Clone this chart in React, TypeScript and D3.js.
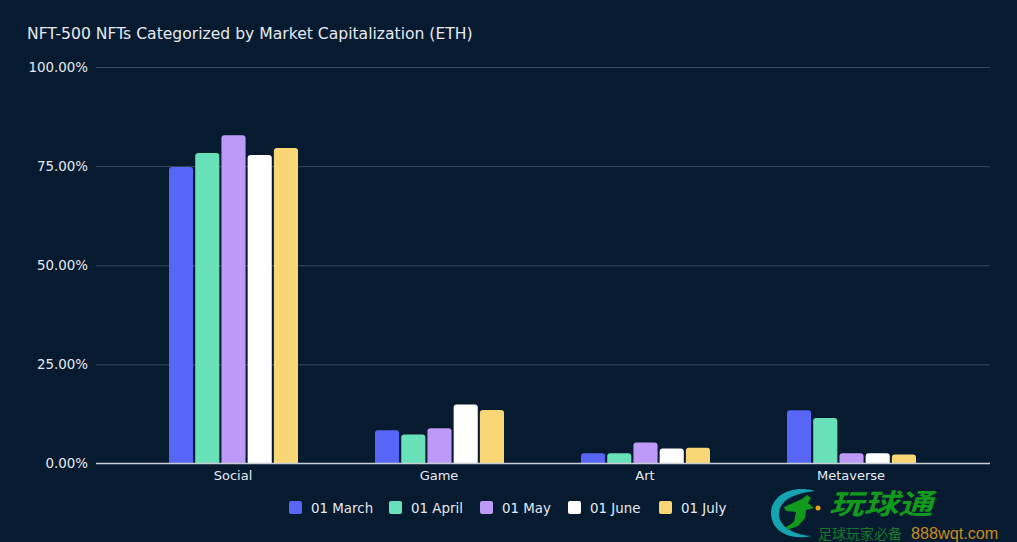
import React, { useEffect, useRef } from 'react';
import * as d3 from 'd3';

const categories = ['Social', 'Game', 'Art', 'Metaverse'];
const months = ['01 March', '01 April', '01 May', '01 June', '01 July'];
const march = [74.8, 8.4, 2.6, 13.4];
const april = [78.3, 7.3, 2.6, 11.5];
const may = [82.8, 8.9, 5.3, 2.6];
const june = [77.8, 14.9, 3.8, 2.6];
const july = [79.6, 13.5, 4.0, 2.3];
const seriesValues = [march, april, may, june, july];
const colors = ['#5766f7', '#68e0b8', '#bd9af7', '#ffffff', '#f8d676'];
const yTicks = [0, 25, 50, 75, 100];

const width = 1017;
const height = 542;
const font = '"DejaVu Sans", Verdana, sans-serif';
const textColor = '#e6eaf0';

const App: React.FC = () => {
  const ref = useRef<SVGSVGElement | null>(null);

  useEffect(() => {
    if (!ref.current) return;
    const svg = d3.select(ref.current);
    svg.selectAll('*').remove();

    svg.append('rect').attr('width', width).attr('height', height).attr('fill', '#061b30');

    svg.append('text')
      .attr('x', 27).attr('y', 39)
      .attr('fill', textColor)
      .attr('font-size', 15.6)
      .text('NFT-500 NFTs Categorized by Market Capitalization (ETH)');

    const y = d3.scaleLinear().domain([0, 100]).range([463.5, 67]);
    const x0 = d3.scaleBand().domain(categories).range([130, 954]);
    const x1 = d3.scaleBand().domain(months).range([39, 168]).paddingInner(0.08);

    // gridlines + y labels
    const yAxis = svg.append('g')
      .attr('transform', 'translate(96,0)')
      .call(d3.axisLeft(y).tickValues(yTicks).tickSize(-894).tickPadding(8).tickFormat(d => `${(+d).toFixed(2)}%`));
    yAxis.select('.domain').remove();
    yAxis.selectAll('.tick line').attr('stroke', d => (d === 0 ? 'none' : '#3a4b62'));
    yAxis.selectAll('.tick text')
      .attr('fill', textColor)
      .attr('font-size', 13.4)
      .attr('font-family', font);

    // bars, rounded on top only
    const barPath = (bx: number, by: number, w: number, r: number) => {
      const h = y(0) - by;
      const rr = Math.min(r, h);
      return `M${bx},${y(0)}V${by + rr}Q${bx},${by} ${bx + rr},${by}H${bx + w - rr}Q${bx + w},${by} ${bx + w},${by + rr}V${y(0)}Z`;
    };

    months.forEach((m, i) => {
      svg.append('g').selectAll('path')
        .data(seriesValues[i])
        .enter().append('path')
        .attr('fill', colors[i])
        .attr('d', (d, j) => barPath((x0(categories[j]) as number) + (x1(m) as number), y(d), x1.bandwidth(), 3));
    });

    // x axis
    svg.append('line')
      .attr('x1', 96).attr('x2', 990)
      .attr('y1', y(0)).attr('y2', y(0))
      .attr('stroke', '#c9ced6').attr('stroke-width', 1.5);

    const xAxis = svg.append('g')
      .attr('transform', `translate(0,${y(0)})`)
      .call(d3.axisBottom(x0).tickSize(0).tickPadding(7));
    xAxis.select('.domain').remove();
    xAxis.selectAll('.tick text')
      .attr('fill', textColor)
      .attr('font-size', 13)
      .attr('font-family', font);

    // legend
    const legendX = d3.scaleOrdinal<string, number>().domain(months).range([289, 389, 480, 568, 659]);
    const legend = svg.append('g').selectAll('g')
      .data(months)
      .enter().append('g')
      .attr('transform', d => `translate(${legendX(d)},501)`);
    legend.append('rect')
      .attr('width', 13).attr('height', 13).attr('rx', 2)
      .attr('fill', (_, i) => colors[i]);
    legend.append('text')
      .attr('x', 22).attr('y', 11.5)
      .attr('fill', textColor)
      .attr('font-size', 13.4)
      .text(d => d);

    // watermark
    const wm = svg.append('g');
    wm.append('path')
      .attr('d', 'M815,491 C790,484 771,497 771,513 C771,530 788,541 812,536 C795,535 778,527 779,513 C780,500 795,493 815,491Z')
      .attr('fill', '#15a3b0');
    wm.append('path')
      .attr('d', 'M784,507 L802,499 L807,495 L811,498 L808,503 L814,508 L806,510 L805,518 L798,526 L787,530 L786,527 L794,522 L796,512 L786,511Z')
      .attr('fill', '#129a1c');
    wm.append('circle').attr('cx', 818).attr('cy', 508).attr('r', 2.5).attr('fill', '#eda21e');
    wm.append('text')
      .attr('x', 829).attr('y', 514)
      .attr('fill', '#129a1c')
      .attr('font-family', '"Noto Sans CJK SC"')
      .attr('font-weight', 700).attr('font-style', 'italic')
      .attr('font-size', 28)
      .attr('textLength', 104).attr('lengthAdjust', 'spacingAndGlyphs')
      .text('玩球通');
    wm.append('text')
      .attr('x', 818).attr('y', 539)
      .attr('fill', '#137a2a')
      .attr('font-family', '"Noto Sans CJK SC"')
      .attr('font-size', 14)
      .text('足球玩家必备');
    wm.append('text')
      .attr('x', 911).attr('y', 539)
      .attr('fill', '#c98a1f')
      .attr('font-family', '"Liberation Sans"')
      .attr('font-size', 16.2)
      .text('888wqt.com');
  }, []);

  return (
    <svg
      ref={ref}
      width={width}
      height={height}
      fontFamily={font}
      style={{ position: 'fixed', left: 0, top: 0, display: 'block' }}
    />
  );
};

export default App;
